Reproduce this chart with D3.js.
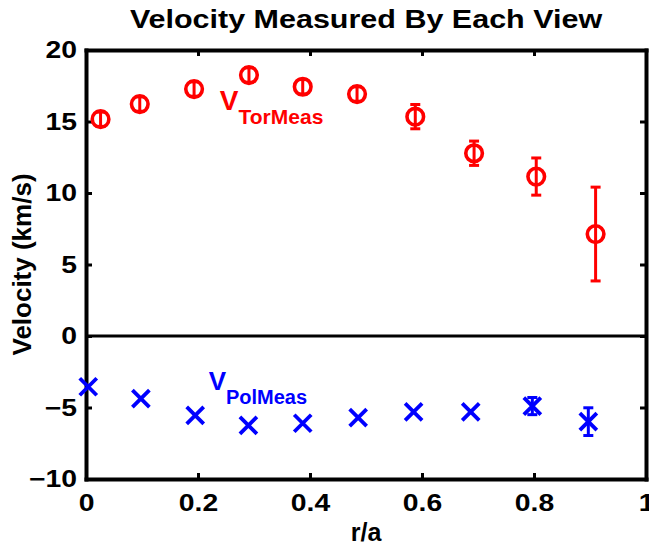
<!DOCTYPE html>
<html>
<head>
<meta charset="utf-8">
<script src="https://cdn.jsdelivr.net/npm/d3@7"></script>
<style>
  body { margin: 0; background: #fff; }
  svg text { font-family: "Liberation Sans", Arial, Helvetica, sans-serif; font-weight: bold; }
</style>
</head>
<body>
<div id="chart"></div>
<script>
// r/a positions and measured velocities (km/s)
const torR = [0.026, 0.096, 0.193, 0.291, 0.387, 0.484, 0.588, 0.693, 0.804, 0.910];
const torV = [15.16, 16.22, 17.27, 18.25, 17.43, 16.92, 15.34, 12.78, 11.15, 7.13];
const torErr = [0.5, 0.5, 0.5, 0.5, 0.5, 0.5, 0.85, 0.85, 1.3, 3.28];

const polR = [0.004, 0.098, 0.195, 0.290, 0.387, 0.486, 0.585, 0.687, 0.797, 0.897];
const polV = [-3.55, -4.38, -5.55, -6.25, -6.10, -5.71, -5.31, -5.31, -4.90, -5.99];
const polErr = [0, 0, 0, 0, 0, 0, 0, 0, 0.6, 0.97];

const xTicks = [0, 0.2, 0.4, 0.6, 0.8, 1];
const yTicks = [-10, -5, 0, 5, 10, 15, 20];

const width = 649;
const height = 546;
const margin = {top: 50, right: 3, bottom: 67, left: 86};

const svg = d3.select("#chart").append("svg")
    .attr("width", width)
    .attr("height", height);

const x = d3.scaleLinear()
    .domain([0, 1])
    .range([margin.left, width - margin.right]);

const y = d3.scaleLinear()
    .domain([-10, 20])
    .range([height - margin.bottom, margin.top]);

const fmt = d => d === 0 ? "0" : String(d).replace("-", "\u2212");

// zero line
svg.append("line")
    .attr("x1", x(0)).attr("x2", x(1))
    .attr("y1", y(0)).attr("y2", y(0))
    .attr("stroke", "black")
    .attr("stroke-width", 3);

// axes: ticks pointing inwards on all four sides
const tick = 6;
const stretch = 1.18;
const axisB = svg.append("g")
    .attr("transform", `translate(0,${y(-10)})`)
    .call(d3.axisBottom(x).tickValues(xTicks).tickSizeInner(-tick).tickSizeOuter(0).tickPadding(15).tickFormat(fmt));
const axisT = svg.append("g")
    .attr("transform", `translate(0,${y(20)})`)
    .call(d3.axisTop(x).tickValues(xTicks).tickSizeInner(-tick).tickSizeOuter(0).tickFormat(""));
const axisL = svg.append("g")
    .attr("transform", `translate(${x(0)},0)`)
    .call(d3.axisLeft(y).tickValues(yTicks).tickSizeInner(-tick).tickSizeOuter(0).tickFormat(fmt));
const axisR = svg.append("g")
    .attr("transform", `translate(${x(1)},0)`)
    .call(d3.axisRight(y).tickValues(yTicks).tickSizeInner(-tick).tickSizeOuter(0).tickFormat(""));

[axisB, axisT, axisL, axisR].forEach(g => {
    g.select(".domain").attr("stroke", "black").attr("stroke-width", 4).attr("stroke-linecap", "square");
    g.selectAll(".tick line").attr("stroke", "black").attr("stroke-width", 3);
    g.selectAll(".tick text")
        .attr("fill", "black")
        .style("font-size", "24px")
        .style("font-family", "'Liberation Sans', Arial, sans-serif")
        .style("font-weight", "bold");
});
axisB.selectAll(".tick text").attr("transform", `scale(${stretch},1)`);
axisL.selectAll(".tick text")
    .attr("x", -9 / stretch)
    .attr("transform", `scale(${stretch},1)`);

// error bars
function errorBars(rs, vs, es, color) {
    const rows = rs.map((r, i) => ({r: r, v: vs[i], e: es[i]})).filter(d => d.e > 0);
    const g = svg.append("g")
        .attr("stroke", color)
        .attr("stroke-width", 3);
    g.selectAll(".stem").data(rows).join("line")
        .attr("x1", d => x(d.r)).attr("x2", d => x(d.r))
        .attr("y1", d => y(d.v - d.e)).attr("y2", d => y(d.v + d.e));
    g.selectAll(".capHi").data(rows).join("line")
        .attr("x1", d => x(d.r) - 5).attr("x2", d => x(d.r) + 5)
        .attr("y1", d => y(d.v + d.e)).attr("y2", d => y(d.v + d.e));
    g.selectAll(".capLo").data(rows).join("line")
        .attr("x1", d => x(d.r) - 5).attr("x2", d => x(d.r) + 5)
        .attr("y1", d => y(d.v - d.e)).attr("y2", d => y(d.v - d.e));
}

errorBars(torR, torV, torErr, "red");
errorBars(polR, polV, polErr, "blue");

// toroidal: circles
svg.append("g").selectAll("circle")
    .data(torR.map((r, i) => [r, torV[i]]))
    .join("circle")
    .attr("cx", d => x(d[0]))
    .attr("cy", d => y(d[1]))
    .attr("r", 8.3)
    .attr("fill", "none")
    .attr("stroke", "red")
    .attr("stroke-width", 3.6);

// poloidal: x marks
const s = 8.5;
svg.append("g").selectAll("path")
    .data(polR.map((r, i) => [r, polV[i]]))
    .join("path")
    .attr("d", d => {
        const cx = x(d[0]), cy = y(d[1]);
        return `M${cx - s},${cy - s}L${cx + s},${cy + s}M${cx - s},${cy + s}L${cx + s},${cy - s}`;
    })
    .attr("stroke", "blue")
    .attr("stroke-width", 3.8)
    .attr("fill", "none");

// series labels, V with subscript
function vLabel(px, py, sub, color, big, small) {
    const t = svg.append("text")
        .attr("x", x(px))
        .attr("y", y(py))
        .attr("fill", color);
    t.append("tspan").style("font-size", big + "px").text("V");
    t.append("tspan").attr("dy", 14).style("font-size", small + "px").text(sub);
}
vLabel(0.239, 15.8, "TorMeas", "red", 28, 21);
vLabel(0.219, -3.75, "PolMeas", "blue", 26, 20);

// title and axis labels
svg.append("text")
    .attr("transform", "translate(366,28) scale(1.22,1)")
    .attr("text-anchor", "middle")
    .style("font-size", "25px")
    .text("Velocity Measured By Each View");

svg.append("text")
    .attr("transform", `translate(31,${(y(-10) + y(20)) / 2}) rotate(-90)`)
    .attr("text-anchor", "middle")
    .style("font-size", "26px")
    .text("Velocity (km/s)");

svg.append("text")
    .attr("x", (x(0) + x(1)) / 2)
    .attr("y", 541)
    .attr("text-anchor", "middle")
    .style("font-size", "25px")
    .text("r/a");
</script>
</body>
</html>
